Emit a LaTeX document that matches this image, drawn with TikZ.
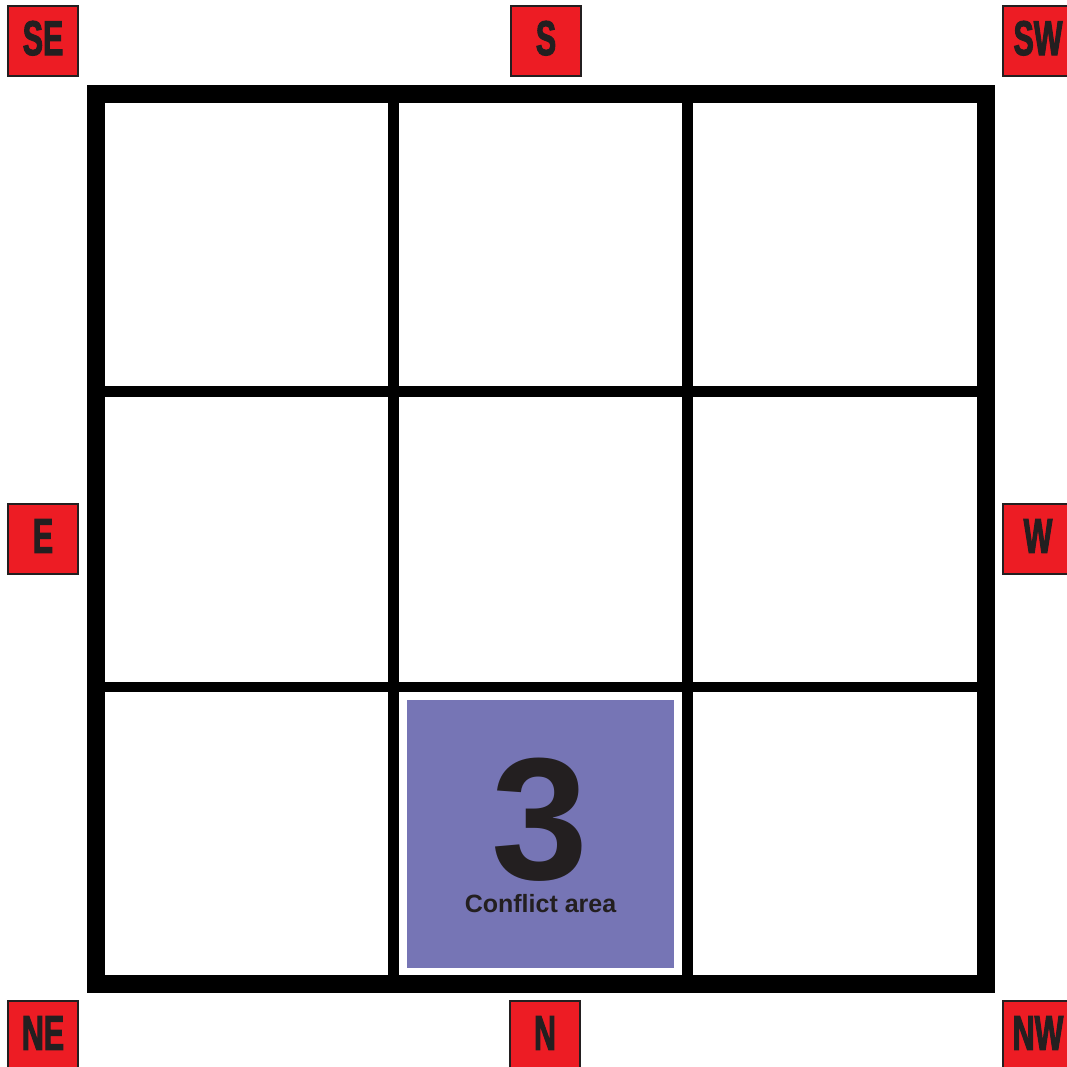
\documentclass[tikz,border=0pt]{standalone}
\usepackage{fontspec}
\setmainfont{Liberation Sans}
\newfontfamily\dirfont[FakeStretch=0.62,FakeBold=2]{Liberation Sans Bold}
\usepackage{xcolor}
\definecolor{labelred}{RGB}{237,28,36}
\definecolor{labeldark}{RGB}{35,31,32}
\definecolor{areablue}{RGB}{118,117,181}

\begin{document}
\begin{tikzpicture}[x=1pt,y=-1pt,
  dirbox/.style={draw=labeldark,line width=2pt,fill=labelred,minimum size=70pt,inner sep=0pt,
    text depth=6pt,text=labeldark,font=\dirfont\fontsize{49pt}{49pt}\selectfont}]
  \useasboundingbox (0,0) rectangle (1067,1067);
  % grid
  \draw[line width=11pt] (393.5,94) -- (393.5,984);
  \draw[line width=11pt] (687.5,94) -- (687.5,984);
  \draw[line width=11pt] (96,391.5) -- (986,391.5);
  \draw[line width=10pt] (96,686.5) -- (986,686.5);
  \draw[line width=18pt] (96,94) rectangle (986,984);
  % conflict area
  \fill[areablue] (407,700) rectangle (674,968);
  \node[anchor=base,inner sep=0pt,text=labeldark,font=\bfseries\fontsize{174pt}{174pt}\selectfont]
    (num) at (540,879) {3};
  \node[anchor=base,inner sep=0pt,text=labeldark,font=\bfseries\fontsize{25pt}{25pt}\selectfont]
    (area) at (540.5,912) {Conflict area};
  % directions
  \node[dirbox] (se) at (43,41)     {SE};
  \node[dirbox] (s)  at (546,41)    {S};
  \node[dirbox] (sw) at (1038,41)   {SW};
  \node[dirbox] (e)  at (43,539)    {E};
  \node[dirbox] (w)  at (1038,539)  {W};
  \node[dirbox] (ne) at (43,1036)   {NE};
  \node[dirbox] (n)  at (545,1036)  {N};
  \node[dirbox] (nw) at (1038,1036) {NW};
\end{tikzpicture}
\end{document}
